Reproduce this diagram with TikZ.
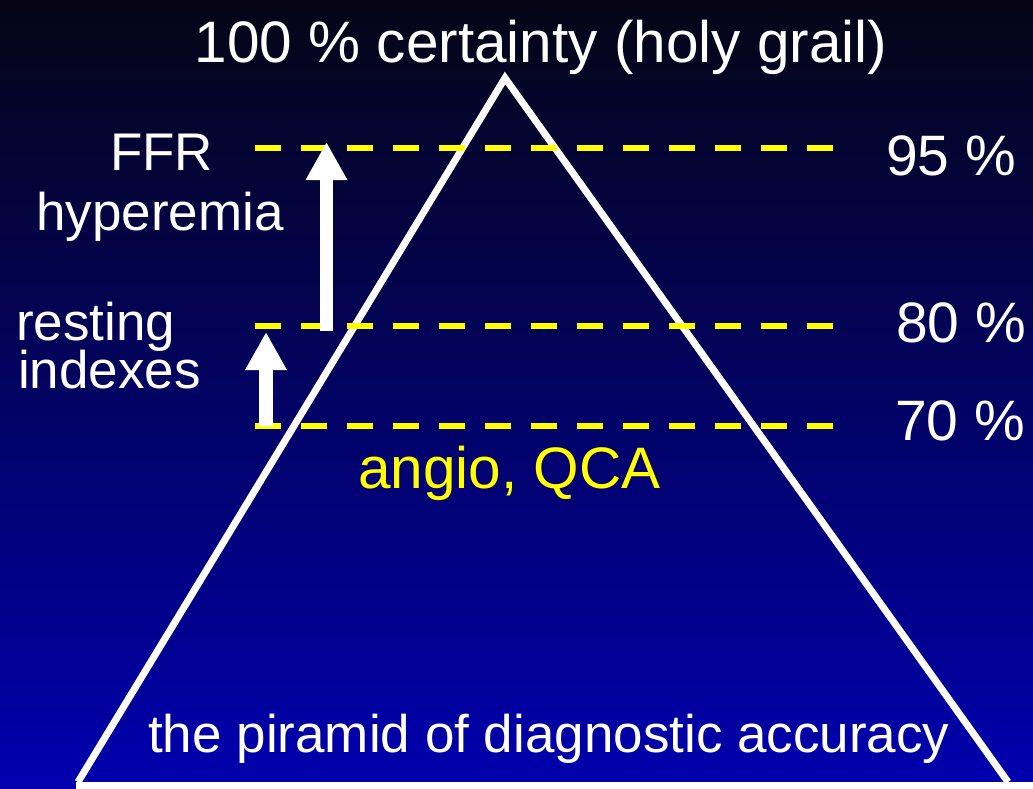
\documentclass[tikz,border=0pt]{standalone}
\usepackage{fontspec}
\setmainfont{Liberation Sans}
\usetikzlibrary{arrows.meta}
\definecolor{skytop}{RGB}{5,5,22}
\definecolor{skybottom}{RGB}{0,0,175}
\definecolor{levelyellow}{RGB}{255,255,0}
\begin{document}
\begin{tikzpicture}[
    x=1pt, y=-1pt,
    every node/.style={inner sep=0pt, text=white},
    txt/.style={anchor=base west, font=\fontsize{53}{55}\selectfont},
    pct/.style={anchor=base west, font=\fontsize{57}{60}\selectfont},
    level/.style={draw=levelyellow, line width=6pt, dash pattern=on 26pt off 20pt},
    side/.style={draw=white, line width=7pt, line join=miter},
    uparrow/.style={draw=white, line width=13.5pt, -{Triangle[width=39pt, length=38pt]}}
]
% background
\shade[top color=skytop, bottom color=skybottom] (0,0) rectangle (1033,788);
\useasboundingbox (0,0) rectangle (1033,788);

% pyramid
\coordinate (apex) at (505,78);
\coordinate (baseL) at (78,782);
\coordinate (baseR) at (1008,782);
\draw[side] (baseL) -- (apex) -- (baseR);
\draw[side] (76,785) -- (1033,785);

% accuracy levels
\coordinate (l95a) at (255,148); \coordinate (l95b) at (834,148);
\coordinate (l80a) at (255,326); \coordinate (l80b) at (834,326);
\coordinate (l70a) at (255,426); \coordinate (l70b) at (838,426);
\draw[level] (l95a) -- (l95b);
\draw[level] (l80a) -- (l80b);
\draw[level] (l70a) -- (l70b);

% arrows
\coordinate (hypfrom) at (326.5,331); \coordinate (hypto) at (326.5,142);
\coordinate (restfrom) at (266,426); \coordinate (restto) at (266,332);
\draw[uparrow] (hypfrom) -- (hypto);
\draw[uparrow] (restfrom) -- (restto);

% labels
\node[anchor=base, font=\fontsize{58.5}{60}\selectfont] (grail) at (541,62) {100 \% certainty (holy grail)};
\node[txt] (ffr) at (110,170) {FFR};
\node[txt] (hyper) at (36,230) {hyperemia};
\node[txt] (resting) at (16,340) {resting};
\node[txt] (indexes) at (18,388) {indexes};
\node[pct] (p95) at (886,175) {95 \%};
\node[pct] (p80) at (896,342) {80 \%};
\node[pct] (p70) at (895,440) {70 \%};
\node[pct, font=\fontsize{58.5}{60}\selectfont, text=levelyellow] (angio) at (358,488) {angio, QCA};
\node[txt] (piramid) at (148,752) {the piramid of diagnostic accuracy};
\end{tikzpicture}
\end{document}
